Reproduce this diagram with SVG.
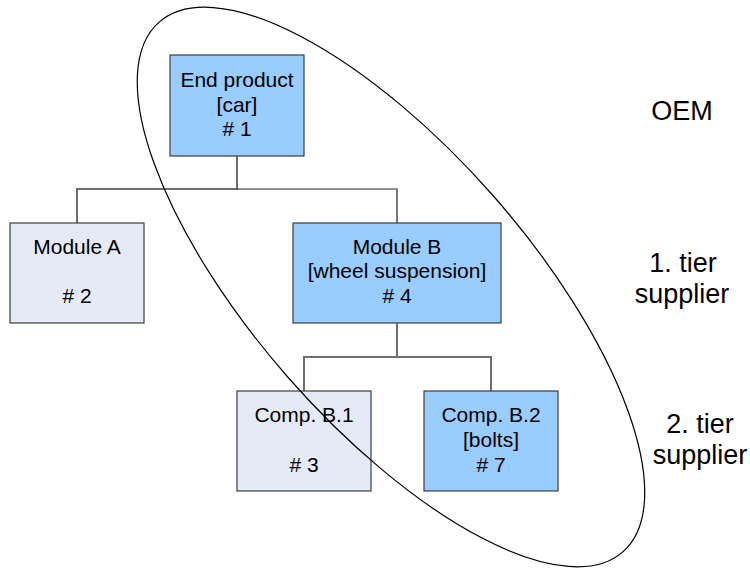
<svg xmlns="http://www.w3.org/2000/svg" width="750" height="568" viewBox="0 0 750 568">
  <style>
    .box { stroke: #3c3c3c; stroke-width: 1.2; }
    .key { fill: #99ccff; }
    .plain { fill: #e4ebf7; }
    .lbl { font-family: "Liberation Sans", Arial, sans-serif; font-size: 21px; fill: #000; text-anchor: middle; }
    .tier { font-family: "Liberation Sans", Arial, sans-serif; font-size: 27px; fill: #000; text-anchor: middle; }
    .wire { fill: none; stroke: #6e6e6e; stroke-width: 2; }
    .wire-thin { fill: none; stroke: #222; stroke-width: 1.2; }
  </style>
  <rect width="750" height="568" fill="#fff"/>

  <!-- tree connectors -->
  <g id="connectors">
    <path class="wire" d="M237 156 V189 H77 V223"/>
    <path class="wire-thin" d="M237 189 H397 V223"/>
    <path class="wire" d="M397 323 V357 H304 V391"/>
    <path class="wire" d="M397 357 H491 V391"/>
  </g>

  <g id="node-end-product">
    <rect class="box key" x="170" y="55" width="134" height="101"/>
    <text class="lbl" x="237" y="87">End product</text>
    <text class="lbl" x="237" y="111.5">[car]</text>
    <text class="lbl" x="237" y="136"># 1</text>
  </g>

  <g id="node-module-a">
    <rect class="box plain" x="10" y="223" width="134" height="100"/>
    <text class="lbl" x="77" y="253.5">Module A</text>
    <text class="lbl" x="77" y="303"># 2</text>
  </g>

  <g id="node-module-b">
    <rect class="box key" x="293" y="223" width="208" height="100"/>
    <text class="lbl" x="397" y="253.5">Module B</text>
    <text class="lbl" x="397" y="278">[wheel suspension]</text>
    <text class="lbl" x="397" y="303"># 4</text>
  </g>

  <g id="node-comp-b1">
    <rect class="box plain" x="237" y="391" width="134" height="100"/>
    <text class="lbl" x="304" y="422">Comp. B.1</text>
    <text class="lbl" x="304" y="471.5"># 3</text>
  </g>

  <g id="node-comp-b2">
    <rect class="box key" x="424" y="391" width="134" height="100"/>
    <text class="lbl" x="491" y="422">Comp. B.2</text>
    <text class="lbl" x="491" y="446.5">[bolts]</text>
    <text class="lbl" x="491" y="471.5"># 7</text>
  </g>

  <!-- supply-chain scope outline -->
  <g id="scope">
    <ellipse cx="391" cy="287" rx="352" ry="137" transform="rotate(48.8 391 287)" fill="none" stroke="#000" stroke-width="1.2"/>
  </g>

  <!-- tier labels -->
  <g id="tiers">
    <text class="tier" x="682" y="120">OEM</text>
    <text class="tier" x="683" y="272">1. tier</text>
    <text class="tier" x="682" y="303">supplier</text>
    <text class="tier" x="700" y="433">2. tier</text>
    <text class="tier" x="700" y="464">supplier</text>
  </g>
</svg>
